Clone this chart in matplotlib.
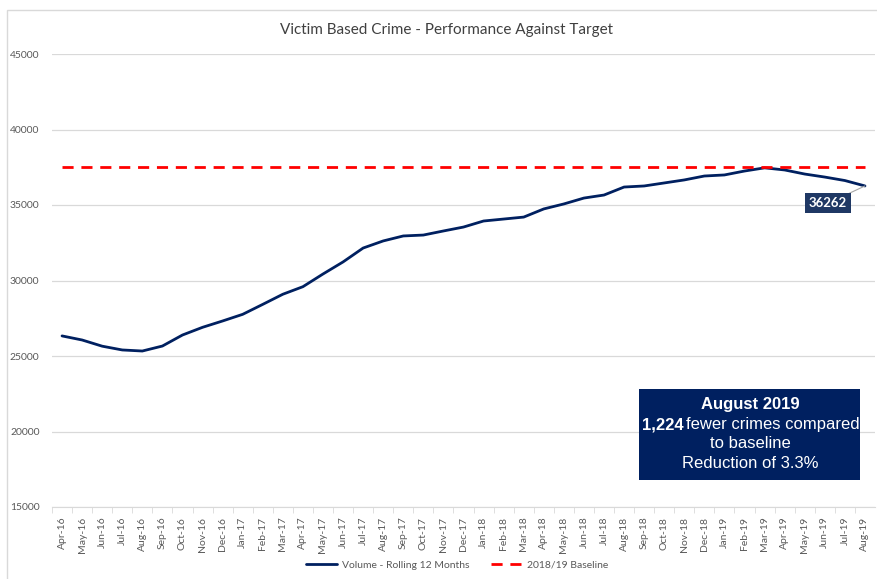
import matplotlib
matplotlib.use("Agg")
import matplotlib.pyplot as plt
from matplotlib.patches import Rectangle

# Donnees
months = ["Apr-16", "May-16", "Jun-16", "Jul-16", "Aug-16", "Sep-16", "Oct-16", "Nov-16",
          "Dec-16", "Jan-17", "Feb-17", "Mar-17", "Apr-17", "May-17", "Jun-17", "Jul-17",
          "Aug-17", "Sep-17", "Oct-17", "Nov-17", "Dec-17", "Jan-18", "Feb-18", "Mar-18",
          "Apr-18", "May-18", "Jun-18", "Jul-18", "Aug-18", "Sep-18", "Oct-18", "Nov-18",
          "Dec-18", "Jan-19", "Feb-19", "Mar-19", "Apr-19", "May-19", "Jun-19", "Jul-19",
          "Aug-19"]
volume = [26330, 26060, 25650, 25400, 25330, 25660, 26390, 26900, 27320, 27760, 28420,
          29090, 29590, 30430, 31230, 32150, 32620, 32950, 33010, 33280, 33540, 33940,
          34070, 34200, 34740, 35070, 35460, 35660, 36190, 36260, 36460, 36660, 36920,
          36990, 37250, 37460, 37320, 37050, 36850, 36620, 36262]
baseline = [37486] * len(months)
yticks = [15000, 20000, 25000, 30000, 35000, 40000, 45000]

navy = "#002060"
grey_txt = "#595959"
font = ["Lato", "DejaVu Sans"]

fig = plt.figure(figsize=(8.78, 5.79), dpi=100)
ax = fig.add_axes([52 / 878, 1 - 507 / 579, 823 / 878, 453 / 579])

# cadre exterieur du graphique
fig.patches.append(Rectangle((7 / 878, -0.1), 1.2, 1 - 10 / 579 + 0.1, transform=fig.transFigure,
                             fill=False, edgecolor="#D9D9D9", linewidth=1))

x = list(range(len(months)))
ax.plot(x, volume, color=navy, linewidth=2.0, label="Volume - Rolling 12 Months",
        solid_capstyle="round")
ax.plot(x, baseline, color="#FF0000", linewidth=2.0, dashes=(4, 2.8), label="2018/19 Baseline")

ax.set_xlim(-0.5, len(months) - 0.5)
ax.set_ylim(15000, 45000)
ax.set_yticks(yticks)
ax.set_yticklabels([str(v) for v in yticks], fontsize=7.5, color=grey_txt, family=font)
ax.tick_params(axis="y", length=0, pad=9)
ax.grid(axis="y", color="#D9D9D9", linewidth=0.9)
ax.set_axisbelow(True)

ax.set_xticks(x)
ax.set_xticklabels(months, rotation=90, fontsize=7.5, color=grey_txt, family=font)
ax.set_xticks([i + 0.5 for i in x[:-1]] + [-0.5], minor=True)
ax.tick_params(axis="x", which="major", length=0, pad=7)
ax.tick_params(axis="x", which="minor", length=4, color="#D9D9D9")

for s in ["top", "right", "left"]:
    ax.spines[s].set_visible(False)
ax.spines["bottom"].set_color("#D9D9D9")

fig.text(447 / 878, 1 - 30 / 579, "Victim Based Crime - Performance Against Target",
         ha="center", va="center", fontsize=11, color="#404040", family=font)

# etiquette de la derniere valeur
ax.annotate(str(volume[-1]), xy=(x[-1], volume[-1]), xytext=(x[-1] - 1.85, volume[-1] - 1150),
            ha="center", va="center", fontsize=9.5, fontweight="bold", color="white", family=font,
            bbox=dict(boxstyle="square,pad=0.3", facecolor="#1F3864", edgecolor="none"),
            arrowprops=dict(arrowstyle="-", color="#A6A6A6", linewidth=0.8, shrinkA=0, shrinkB=0))

# encadre de commentaire
fig.patches.append(Rectangle((639 / 878, 1 - 480 / 579), 221 / 878, 91 / 579,
                             transform=fig.transFigure, facecolor=navy, edgecolor="none"))
bx = 750 / 878
fs = 12
fig.text(bx, 1 - 405 / 579, "August 2019", ha="center", va="center", fontsize=fs,
         fontweight="bold", color="white", family="Liberation Sans")
fig.text(684 / 878, 1 - 425 / 579, "1,224", ha="right", va="center", fontsize=fs,
         fontweight="bold", color="white", family="Liberation Sans")
fig.text(686 / 878, 1 - 425 / 579, "fewer crimes compared", ha="left", va="center", fontsize=fs,
         color="white", family="Liberation Sans")
fig.text(bx, 1 - 444 / 579, "to baseline", ha="center", va="center", fontsize=fs,
         color="white", family="Liberation Sans")
fig.text(bx, 1 - 464 / 579, "Reduction of 3.3%", ha="center", va="center", fontsize=fs,
         color="white", family="Liberation Sans")

leg = fig.legend(loc="center", bbox_to_anchor=(457 / 878, 1 - 565 / 579), ncol=2, frameon=False,
                 prop={"family": font, "size": 7.5}, handlelength=3.0, handletextpad=0.5,
                 columnspacing=2.0)
for t in leg.get_texts():
    t.set_color(grey_txt)

fig.savefig("out.png", dpi=100)
